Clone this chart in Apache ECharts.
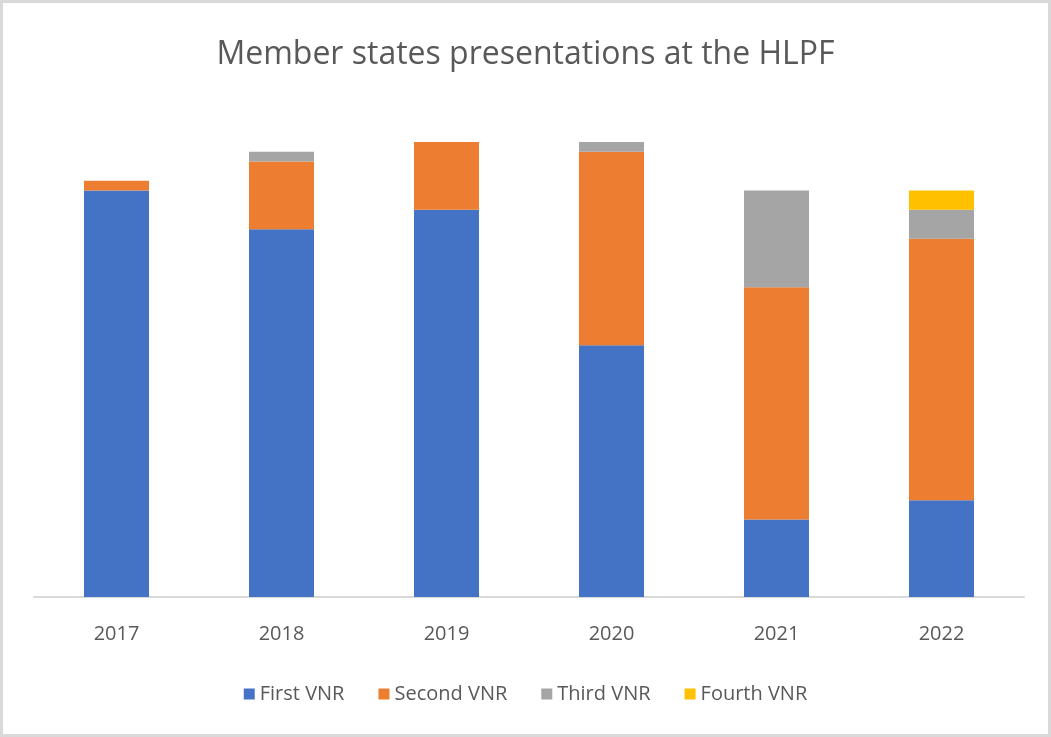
<!DOCTYPE html>
<html>
<head>
<meta charset="utf-8">
<script src="https://cdn.jsdelivr.net/npm/echarts@6/dist/echarts.min.js"></script>
<style>
  html, body { margin: 0; padding: 0; background: #fff; }
  #chart { width: 1051px; height: 737px; box-sizing: border-box; border: 3px solid #d9d9d9; }
</style>
</head>
<body>
<div id="chart"></div>
<script>
// HLPF voluntary national reviews by year
const years = ['2017', '2018', '2019', '2020', '2021', '2022'];
const firstVNR = [42, 38, 40, 26, 8, 10];
const secondVNR = [1, 7, 7, 20, 24, 27];
const thirdVNR = [0, 1, 0, 1, 10, 3];
const fourthVNR = [0, 0, 0, 0, 0, 2];

const chart = echarts.init(document.getElementById('chart'));
const textColor = '#595959';

function bar(name, data, color) {
  return {
    name,
    type: 'bar',
    stack: 'vnr',
    data,
    barWidth: '39.4%',
    itemStyle: { color },
    emphasis: { disabled: true }
  };
}

chart.setOption({
  animation: false,
  title: {
    text: 'Member states presentations at the HLPF',
    left: 'center',
    top: 31,
    textStyle: { color: textColor, fontFamily: 'Open Sans', fontWeight: 'normal', fontSize: 32 }
  },
  legend: {
    bottom: 25,
    left: 'center',
    icon: 'rect',
    itemWidth: 11,
    itemHeight: 11,
    itemGap: 34,
    textStyle: { color: textColor, fontFamily: 'Open Sans', fontSize: 20 }
  },
  grid: { left: 31, right: 24, top: 110, bottom: 137 },
  xAxis: {
    type: 'category',
    data: years,
    axisLine: { lineStyle: { color: '#d9d9d9', width: 2 } },
    axisTick: { show: false },
    axisLabel: { color: textColor, fontFamily: 'Open Sans', fontSize: 20, margin: 27 }
  },
  yAxis: {
    type: 'value',
    min: 0,
    max: 50,
    show: false,
    splitLine: { show: false }
  },
  series: [
    bar('First VNR', firstVNR, '#4472C4'),
    bar('Second VNR', secondVNR, '#ED7D31'),
    bar('Third VNR', thirdVNR, '#A5A5A5'),
    bar('Fourth VNR', fourthVNR, '#FFC000')
  ]
});
</script>
</body>
</html>
